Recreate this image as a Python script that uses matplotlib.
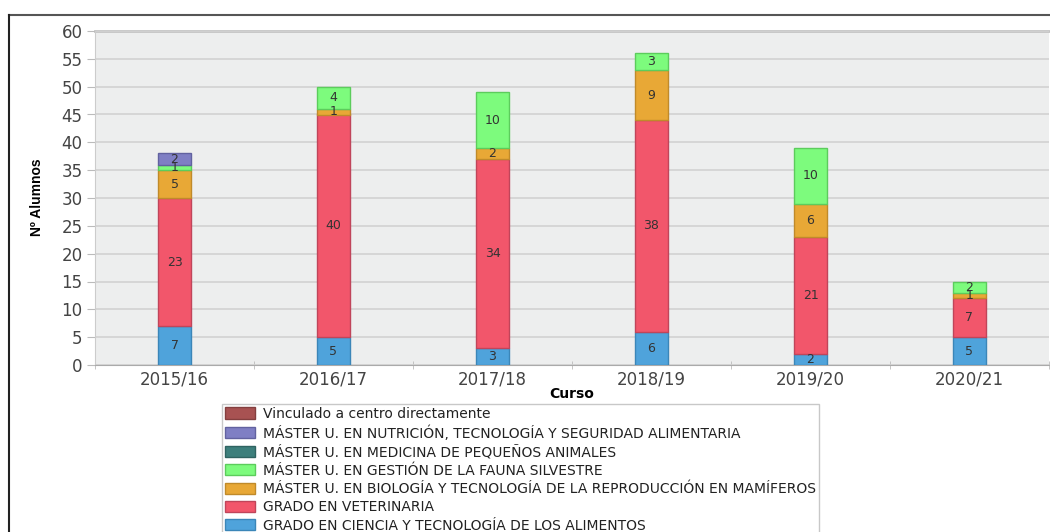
import numpy as np
import matplotlib
matplotlib.use('Agg')
from matplotlib import pyplot as plt
from matplotlib.patches import Patch
from matplotlib.lines import Line2D

# academic years and student counts per programme
cursos = ['2015/16', '2016/17', '2017/18', '2018/19', '2019/20', '2020/21']
ciencia = [7, 5, 3, 6, 2, 5]
veterinaria = [23, 40, 34, 38, 21, 7]
biologia = [5, 1, 2, 9, 6, 1]
fauna = [1, 4, 10, 3, 10, 2]
medicina = [0, 0, 0, 0, 0, 0]
nutricion = [2, 0, 0, 0, 0, 0]
vinculado = [0, 0, 0, 0, 0, 0]

series = [
    ('GRADO EN CIENCIA Y TECNOLOGÍA DE LOS ALIMENTOS', ciencia, '#4fa3db', '#3b86b8'),
    ('GRADO EN VETERINARIA', veterinaria, '#f2566b', '#c0455a'),
    ('MÁSTER U. EN BIOLOGÍA Y TECNOLOGÍA DE LA REPRODUCCIÓN EN MAMÍFEROS', biologia, '#e8a836', '#c08a2a'),
    ('MÁSTER U. EN GESTIÓN DE LA FAUNA SILVESTRE', fauna, '#7dfb7d', '#5ccc5c'),
    ('MÁSTER U. EN MEDICINA DE PEQUEÑOS ANIMALES', medicina, '#3d7f7c', '#2f6361'),
    ('MÁSTER U. EN NUTRICIÓN, TECNOLOGÍA Y SEGURIDAD ALIMENTARIA', nutricion, '#7f7fc4', '#6262a0'),
    ('Vinculado a centro directamente', vinculado, '#a85252', '#843f3f'),
]

W, H = 1050, 532
fig = plt.figure(figsize=(W / 100, H / 100), dpi=100)
ax = fig.add_axes([95 / W, 1 - 365 / H, (1049 - 95) / W, (365 - 31) / H])
ax.set_facecolor('#edeeee')

x = np.arange(len(cursos))
bottom = np.zeros(len(cursos))
for name, vals, col, edge in series:
    vals = np.array(vals, dtype=float)
    nz = vals > 0  # empty segments are not drawn
    if nz.any():
        ax.bar(x[nz], vals[nz], 0.21, bottom=bottom[nz], color=col, edgecolor=edge,
               linewidth=1, zorder=3)
    for i, v in enumerate(vals):
        if v > 0:
            ax.text(x[i], bottom[i] + v / 2, '%d' % v, ha='center', va='center',
                    fontsize=9, color='#333333', zorder=4)
    bottom += vals

ax.set_xlim(-0.5, len(cursos) - 0.5)
ax.set_ylim(0, 60)
ax.set_yticks(np.arange(0, 61, 5))
ax.set_xticks(x)
ax.set_xticklabels(cursos)
ax.set_xticks(np.arange(-0.5, len(cursos), 1), minor=True)
ax.tick_params(axis='x', which='major', length=0, pad=4, labelsize=12, labelcolor='#444444')
ax.tick_params(axis='x', which='minor', length=6, color='#bbbbbb', direction='inout')
ax.tick_params(axis='y', length=6, color='#bbbbbb', pad=3, labelsize=12, labelcolor='#444444')
ax.grid(axis='y', color='#d2d2d2', linewidth=1.2, zorder=0)
for s in ['top', 'right']:
    ax.spines[s].set_visible(False)
ax.spines['left'].set_color('#cccccc')
ax.spines['bottom'].set_color('#aaaaaa')
ax.axhline(60, color='#c4c4c4', linewidth=2, zorder=1, clip_on=False)

ax.set_xlabel('Curso', fontsize=10, fontweight='bold')
ax.xaxis.set_label_coords(0.5, -0.067)
fig.text(37 / W, 1 - 197 / H, 'Nº Alumnos', rotation=90, ha='center', va='center',
         fontsize=10, fontweight='bold', family='Liberation Sans')

# legend, reversed order (top entry is last series)
handles = [Patch(facecolor=c, edgecolor=e) for _, _, c, e in series][::-1]
labels = [n for n, _, _, _ in series][::-1]
leg = fig.legend(handles, labels, loc='upper left', bbox_to_anchor=(222 / W, 1 - 404 / H),
                 fontsize=10, frameon=True, fancybox=False, edgecolor='#bbbbbb',
                 handlelength=2.2, handleheight=0.85, handletextpad=0.55,
                 labelspacing=0.31, borderpad=0.2, borderaxespad=0)
leg.get_frame().set_linewidth(1)
for t in leg.get_texts():
    t.set_color('#222222')

# panel frame
fig.add_artist(Line2D([9 / W, 1], [1 - 15 / H, 1 - 15 / H], color='#555555', linewidth=1.5))
fig.add_artist(Line2D([9 / W, 9 / W], [0, 1 - 15 / H], color='#222222', linewidth=1.5))

fig.savefig('out.png', dpi=100)
